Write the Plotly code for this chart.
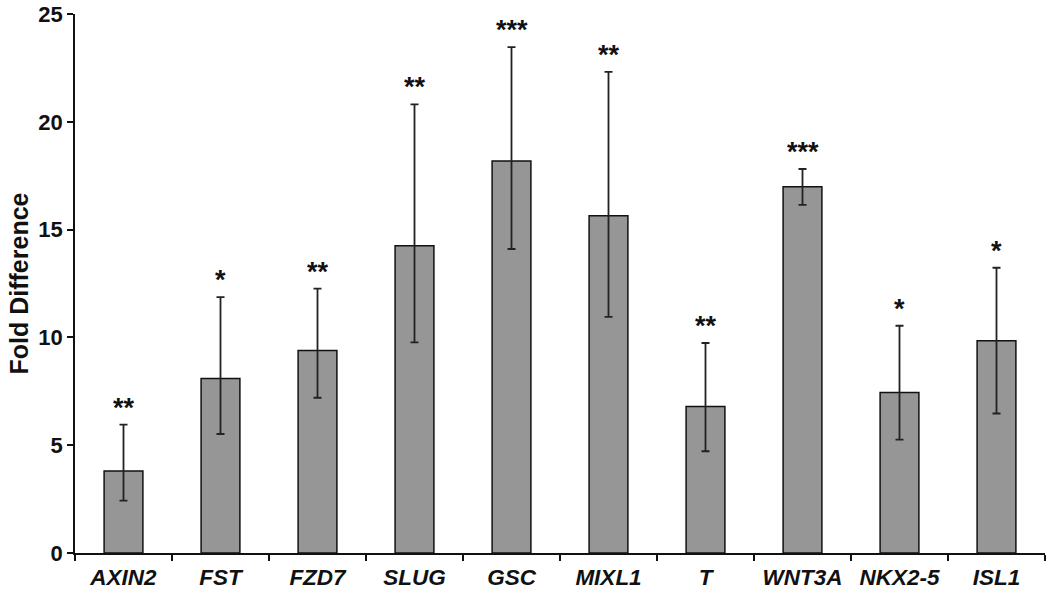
import plotly.graph_objects as go

genes = ["AXIN2", "FST", "FZD7", "SLUG", "GSC", "MIXL1", "T", "WNT3A", "NKX2-5", "ISL1"]
fold = [3.80, 8.09, 9.39, 14.25, 18.18, 15.64, 6.79, 16.99, 7.45, 9.85]
err_top = [5.95, 11.87, 12.26, 20.81, 23.46, 22.32, 9.74, 17.81, 10.54, 13.23]
err_bottom = [2.43, 5.52, 7.20, 9.77, 14.10, 10.95, 4.72, 16.15, 5.26, 6.47]
stars = ["**", "*", "**", "**", "***", "**", "**", "***", "*", "*"]

plus = [t - f for t, f in zip(err_top, fold)]
minus = [f - b for f, b in zip(fold, err_bottom)]
labels = [f"<b><i>{g}</i></b>" for g in genes]

FONT = "Arial, Liberation Sans, sans-serif"

fig = go.Figure()
fig.add_trace(go.Bar(
    x=labels, y=fold, width=0.4,
    marker=dict(color="#969696", line=dict(color="#111111", width=1.5)),
    error_y=dict(type="data", symmetric=False, array=plus, arrayminus=minus,
                 color="#222222", thickness=1.8, width=4),
    showlegend=False,
))

for lab, t, s in zip(labels, err_top, stars):
    fig.add_annotation(x=lab, y=t, text=f"<b>{s}</b>", showarrow=False,
                       yanchor="bottom", yshift=0,
                       font=dict(family=FONT, size=27, color="#111111"))

fig.update_layout(
    width=1050, height=598,
    margin=dict(l=75, r=5, t=14, b=45, autoexpand=False),
    plot_bgcolor="white", paper_bgcolor="white",
    font=dict(family=FONT, color="#111111"),
)
fig.update_xaxes(
    type="category", showline=True, linecolor="#111111", linewidth=1.5,
    ticks="outside", ticklen=6, tickwidth=1.5, tickcolor="#111111",
    tickson="boundaries", showgrid=False, ticklabelstandoff=3,
    tickfont=dict(family=FONT, size=22.5, color="#111111"),
)
fig.update_yaxes(
    range=[0, 25], dtick=5, showline=True, linecolor="#111111", linewidth=1.5,
    ticks="outside", ticklen=6, tickwidth=1.5, tickcolor="#111111",
    showgrid=False, zeroline=False, ticklabeloverflow="allow",
    tickfont=dict(family=FONT, size=22, color="#111111"),
    tickprefix="<b>", ticksuffix="</b>",
    title=dict(text="<b>Fold Difference</b>", font=dict(family=FONT, size=25, color="#111111"), standoff=3),
)

fig.write_html("out.html", config={"displayModeBar": False},
               post_script="document.body.style.margin='0px';document.body.style.overflow='hidden';")
